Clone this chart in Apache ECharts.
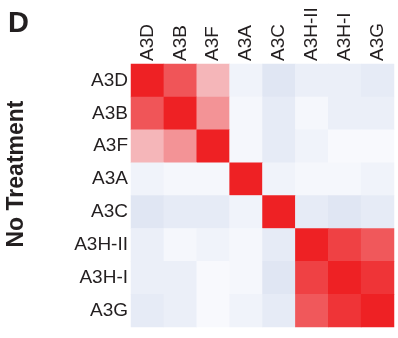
<!DOCTYPE html>
<html>
<head>
<meta charset="utf-8">
<script src="https://cdn.jsdelivr.net/npm/echarts@6/dist/echarts.min.js"></script>
<style>
html,body{margin:0;padding:0;background:#fff;}
#chart{width:398px;height:338px;}
</style>
</head>
<body>
<div id="chart"></div>
<script>
const categories = ['A3D', 'A3B', 'A3F', 'A3A', 'A3C', 'A3H-II', 'A3H-I', 'A3G'];
const rowA3D  = [1, 0.76, 0.31, -0.06, -0.19, -0.10, -0.10, -0.14];
const rowA3B  = [0.76, 1, 0.47, -0.02, -0.14, -0.02, -0.10, -0.10];
const rowA3F  = [0.31, 0.47, 1, -0.02, -0.14, -0.06, 0.00, 0.00];
const rowA3A  = [-0.06, -0.02, -0.02, 1, -0.06, -0.02, -0.02, -0.06];
const rowA3C  = [-0.19, -0.14, -0.14, -0.06, 1, -0.14, -0.19, -0.14];
const rowA3HII = [-0.10, -0.02, -0.06, -0.02, -0.14, 1, 0.85, 0.745];
const rowA3HI = [-0.10, -0.10, 0.00, -0.02, -0.19, 0.85, 1, 0.91];
const rowA3G  = [-0.14, -0.10, 0.00, -0.06, -0.14, 0.745, 0.91, 1];
const rows = [rowA3D, rowA3B, rowA3F, rowA3A, rowA3C, rowA3HII, rowA3HI, rowA3G];

const data = [];
rows.forEach((row, r) => row.forEach((v, c) => data.push([c, r, v])));

const chart = echarts.init(document.getElementById('chart'), null, {renderer: 'canvas'});
const font = '"Liberation Sans", Arial, Helvetica, sans-serif';
chart.setOption({
  animation: false,
  grid: {left: 131, top: 64, width: 263, height: 263},
  xAxis: {
    type: 'category', data: categories, position: 'top',
    axisLine: {show: false}, axisTick: {show: false}, splitLine: {show: false},
    axisLabel: {rotate: -90, margin: 3, fontSize: 19, color: '#231f20', fontFamily: font, interval: 0}
  },
  yAxis: {
    type: 'category', data: categories, inverse: true,
    axisLine: {show: false}, axisTick: {show: false}, splitLine: {show: false},
    axisLabel: {margin: 3, fontSize: 19, color: '#231f20', fontFamily: font, interval: 0}
  },
  visualMap: {
    show: false, type: 'continuous', min: -0.25, max: 1, dimension: 2,
    inRange: {color: ['#d8e0f0', '#f8f9fd', '#f5c3c6', '#f38d90', '#f0575a', '#ee2124']}
  },
  series: [{
    type: 'heatmap', data: data,
    itemStyle: {borderWidth: 0},
    emphasis: {disabled: true}
  }],
  graphic: [
    {type: 'text', left: 8, top: 9, style: {text: 'D', font: 'bold 29px ' + font, fill: '#231f20'}},
    {type: 'text', x: 17, y: 174, rotation: Math.PI / 2,
     style: {text: 'No Treatment', font: 'bold 23px ' + font, fill: '#231f20', textAlign: 'center', textVerticalAlign: 'middle'}}
  ]
});
</script>
</body>
</html>
